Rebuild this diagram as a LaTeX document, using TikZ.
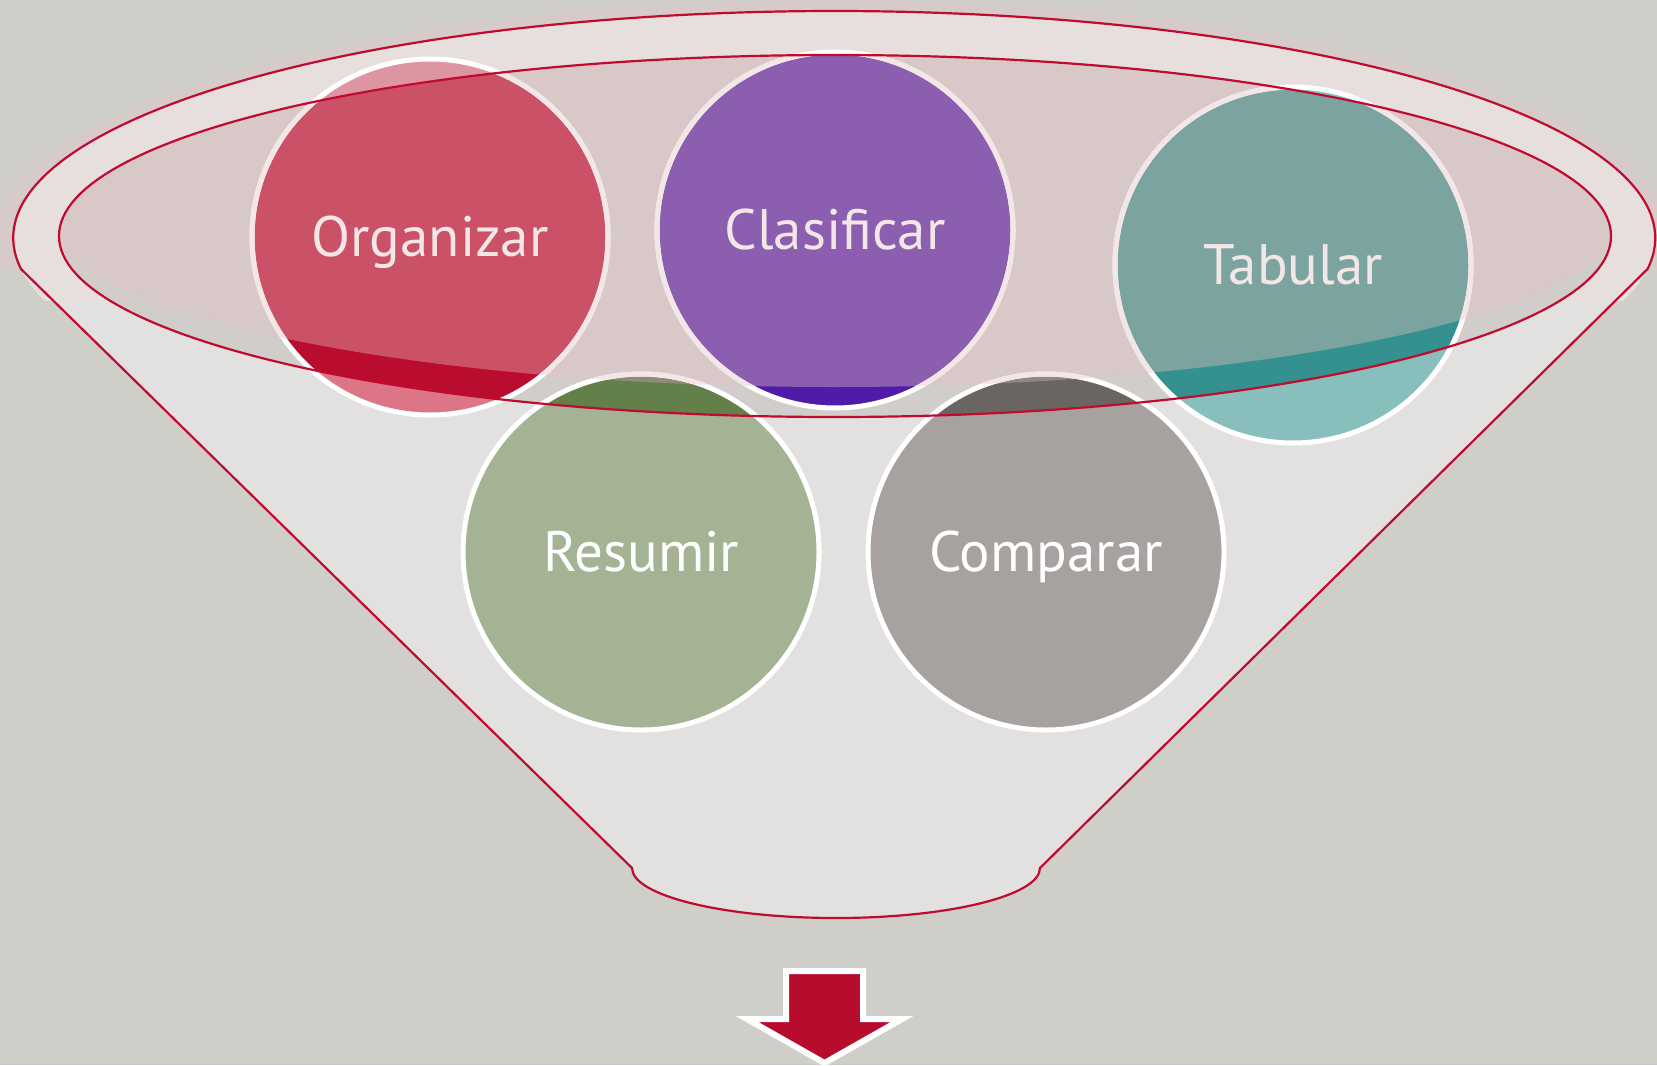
\documentclass[tikz,border=0pt]{standalone}
\usepackage{fontspec}
\setmainfont{PT Sans}
\definecolor{bgc}{HTML}{CFCEC9}
\definecolor{haloc}{HTML}{D6CBCA}
\definecolor{bodyc}{HTML}{E2E1DF}
\definecolor{rimc}{HTML}{E6DFDE}
\definecolor{zoneBbg}{HTML}{D0CDCA}
\definecolor{zoneAbg}{HTML}{D8C8C8}
\definecolor{redline}{HTML}{C00A2F}
\definecolor{arrowred}{HTML}{B80C2F}
\definecolor{ringA}{HTML}{F2E6E6}
\definecolor{textA}{HTML}{F3E6E6}
% Organizar
\definecolor{orgC}{HTML}{DC7686}
\definecolor{orgT}{HTML}{DE95A2}
\definecolor{orgB}{HTML}{B90C2F}
\definecolor{orgA}{HTML}{CB5167}
% Clasificar
\definecolor{claC}{HTML}{A27EC0}
\definecolor{claT}{HTML}{A27EC0}
\definecolor{claB}{HTML}{4F1BA8}
\definecolor{claA}{HTML}{8B5EAF}
% Tabular
\definecolor{tabC}{HTML}{88BFBD}
\definecolor{tabT}{HTML}{8DC0BE}
\definecolor{tabB}{HTML}{34918F}
\definecolor{tabA}{HTML}{7BA4A1}
% Resumir
\definecolor{resC}{HTML}{A3B394}
\definecolor{resB}{HTML}{637F4A}
\definecolor{resA}{HTML}{8E8B77}
% Comparar
\definecolor{comC}{HTML}{A7A1A0}
\definecolor{comB}{HTML}{6A6462}
\definecolor{comA}{HTML}{918788}
\tikzset{
  balltext/.style={font=\fontsize{28.5}{30}\selectfont, inner sep=0pt, anchor=base},
  ringline/.style={line width=2.5pt},
  funnelline/.style={draw=redline, line width=1.1pt},
}
\newcommand\innerclip{\clip (835,236) ellipse[x radius=776, y radius=181];}
\newcommand\shadowclip{\clip (835,215) ellipse[x radius=790, y radius=172];}
% #1 name, #2 x, #3 y, #4 lower colour, #5 top-rim colour, #6 band colour, #7 inner colour, #8 text, #9 text colour
\newcommand\funnelball[9]{%
  \fill[#4] (#2,#3) circle[radius=178];
  \begin{scope}
    \clip (0,0) rectangle (1657,236);
    \fill[#5] (#2,#3) circle[radius=178];
  \end{scope}
  \begin{scope}
    \innerclip
    \fill[#6] (#2,#3) circle[radius=178];
    \shadowclip
    \fill[#7] (#2,#3) circle[radius=178];
  \end{scope}
  \draw[white, ringline] (#2,#3) circle[radius=178];
  \begin{scope}
    \innerclip
    \shadowclip
    \draw[ringA, ringline] (#2,#3) circle[radius=178];
  \end{scope}
  \node[balltext, text=#9] (#1) at (#2,#3+19) {#8};
}
\begin{document}
\begin{tikzpicture}[x=0.5pt, y=-0.5pt]
\useasboundingbox (0,0) rectangle (1657,1065);
\fill[bgc] (0,0) rectangle (1657,1065);
% halo
\begin{scope}
  \clip (0,0) rectangle (1657,269);
  \fill[haloc] (834,240) ellipse[x radius=838, y radius=240];
\end{scope}
% funnel body
\fill[bodyc] (21,269) arc[start angle=172.15, end angle=367.85, x radius=821, y radius=227]
  -- (1040,868) arc[start angle=0, end angle=180, x radius=204, y radius=50] -- cycle;
% rim
\begin{scope}
  \clip (0,0) rectangle (1657,300);
  \fill[rimc] (834,238) ellipse[x radius=821, y radius=227];
\end{scope}
% inner ellipse zones
\fill[zoneBbg] (835,236) ellipse[x radius=776, y radius=181];
\begin{scope}
  \innerclip
  \fill[zoneAbg] (835,215) ellipse[x radius=790, y radius=172];
\end{scope}
% balls
\funnelball{org}{430}{237}{orgC}{orgT}{orgB}{orgA}{Organizar}{textA}
\funnelball{cla}{835}{230}{claC}{claT}{claB}{claA}{Clasificar}{textA}
\funnelball{tab}{1293}{265}{tabC}{tabT}{tabB}{tabA}{Tabular}{textA}
\funnelball{res}{641}{552}{resC}{resC}{resB}{resA}{Resumir}{white}
\funnelball{com}{1046}{552}{comC}{comC}{comB}{comA}{Comparar}{white}
% funnel outlines
\draw[funnelline] (21,269) arc[start angle=172.15, end angle=367.85, x radius=821, y radius=227]
  -- (1040,868) arc[start angle=0, end angle=180, x radius=204, y radius=50] -- cycle;
\draw[funnelline] (835,236) ellipse[x radius=776, y radius=181];
% arrow
\draw[white, line width=3pt, fill=arrowred, line join=miter]
  (786,971) -- (863,971) -- (863,1019) -- (902,1019) -- (824.5,1063) -- (747,1019) -- (786,1019) -- cycle;
\end{tikzpicture}
\end{document}
